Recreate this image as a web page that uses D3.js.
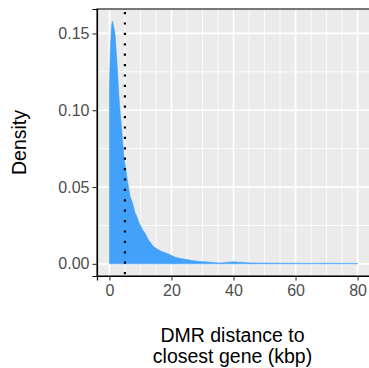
<!DOCTYPE html>
<html>
<head>
<meta charset="utf-8">
<script src="https://cdn.jsdelivr.net/npm/d3@7"></script>
<style>
  html, body { margin: 0; padding: 0; background: #fff; }
  svg { display: block; font-family: "Liberation Sans", Arial, sans-serif; }
</style>
</head>
<body>
<svg id="chart" width="369" height="368"></svg>
<script>
// distance to closest gene (kbp) and estimated density
const distance = [0, 0.3, 0.7, 1.0, 1.5, 1.84, 2.5, 3.1, 4.0, 4.7, 5.9, 6.7, 7.4, 8.3, 8.8, 9.5,
  10.75, 11.5, 12.6, 14.2, 15.5, 16.9, 19.0, 21.2, 23, 25.4, 27, 29.2, 31, 33.4, 35.6, 37,
  39.8, 42, 44, 46, 50, 55, 60, 65, 70, 75, 80];
const density = [0.115, 0.14, 0.155, 0.158, 0.153, 0.149, 0.129, 0.108, 0.086, 0.069, 0.053, 0.0437, 0.040, 0.033, 0.031, 0.027,
  0.022, 0.020, 0.0156, 0.0113, 0.0095, 0.008, 0.0065, 0.0043, 0.0035, 0.0026, 0.002, 0.0015, 0.0013, 0.0009, 0.0005, 0.0008,
  0.0013, 0.0011, 0.0008, 0.0006, 0.0005, 0.0004, 0.0004, 0.0003, 0.0004, 0.0003, 0.0003];
const medianLine = 5;

const xTicks = [0, 20, 40, 60, 80];
const xMinor = [5, 10, 15, 25, 30, 35, 45, 50, 55, 65, 70, 75];
const yTicks = [0, 0.05, 0.10, 0.15];
const yMinor = [0.025, 0.075, 0.125];

const xTitle = ["DMR distance to", "closest gene (kbp)"];
const yTitle = "Density";

const points = distance.map((d, i) => ({ x: d, y: density[i] }));

const panel = { left: 97, right: 370, top: 9, bottom: 276 };

// ggplot-style 5% expansion
const xMax = d3.max(distance), yMax = d3.max(density);
const x = d3.scaleLinear().domain([-xMax * 0.05, xMax * 1.05]).range([panel.left, panel.right]);
const y = d3.scaleLinear().domain([-yMax * 0.05, yMax * 1.05]).range([panel.bottom, panel.top]);

const svg = d3.select("#chart");

svg.append("rect")
  .attr("x", panel.left).attr("y", panel.top)
  .attr("width", panel.right - panel.left).attr("height", panel.bottom - panel.top)
  .attr("fill", "#EBEBEB");

const grid = svg.append("g").attr("stroke", "#fff");
grid.selectAll(".xminor").data(xMinor).join("line")
  .attr("x1", d => x(d)).attr("x2", d => x(d))
  .attr("y1", panel.top).attr("y2", panel.bottom)
  .attr("stroke-width", 0.8);
grid.selectAll(".yminor").data(yMinor).join("line")
  .attr("y1", d => y(d)).attr("y2", d => y(d))
  .attr("x1", panel.left).attr("x2", panel.right)
  .attr("stroke-width", 0.8);
grid.selectAll(".xmajor").data(xTicks).join("line")
  .attr("x1", d => x(d)).attr("x2", d => x(d))
  .attr("y1", panel.top).attr("y2", panel.bottom)
  .attr("stroke-width", 1.7);
grid.selectAll(".ymajor").data(yTicks).join("line")
  .attr("y1", d => y(d)).attr("y2", d => y(d))
  .attr("x1", panel.left).attr("x2", panel.right)
  .attr("stroke-width", 1.7);

const area = d3.area()
  .x(d => x(d.x))
  .y0(y(0))
  .y1(d => y(d.y));

svg.append("path")
  .datum(points)
  .attr("d", area)
  .attr("fill", "#43A1FA")
  .attr("stroke", "#43A1FA")
  .attr("stroke-width", 0.6);

svg.append("line")
  .attr("x1", x(medianLine)).attr("x2", x(medianLine))
  .attr("y1", panel.top + 3).attr("y2", panel.bottom)
  .attr("stroke", "#000")
  .attr("stroke-width", 2.2)
  .attr("stroke-dasharray", "2.2 8.2");

// panel border
svg.append("rect")
  .attr("x", panel.left).attr("y", panel.top)
  .attr("width", panel.right - panel.left).attr("height", panel.bottom - panel.top)
  .attr("fill", "none")
  .attr("stroke", "#333")
  .attr("stroke-width", 1.3);

const xAxis = svg.append("g")
  .attr("transform", `translate(0,${panel.bottom})`)
  .call(d3.axisBottom(x).tickValues(xTicks).tickSize(4.5).tickPadding(4).tickFormat(d3.format("d")));
const yAxis = svg.append("g")
  .attr("transform", `translate(${panel.left},0)`)
  .call(d3.axisLeft(y).tickValues(yTicks).tickSize(4.5).tickPadding(3).tickFormat(d3.format(".2f")));

[xAxis, yAxis].forEach(g => {
  g.select(".domain").attr("stroke", "#000").attr("stroke-width", 1.2);
  g.selectAll(".tick line").attr("stroke", "#333").attr("stroke-width", 1.1);
  g.selectAll(".tick text")
    .attr("fill", "#4D4D4D")
    .attr("font-size", 16)
    .attr("font-family", "Liberation Sans, Arial, sans-serif");
});

svg.append("text")
  .attr("transform", `translate(26,${(panel.top + panel.bottom) / 2}) rotate(-90)`)
  .attr("text-anchor", "middle")
  .attr("font-size", 19.5)
  .attr("fill", "#000")
  .text(yTitle);

svg.append("g")
  .selectAll("text")
  .data(xTitle)
  .join("text")
  .attr("x", (panel.left + panel.right) / 2 - 1)
  .attr("y", (d, i) => 342 + i * 21)
  .attr("text-anchor", "middle")
  .attr("font-size", 19.5)
  .attr("fill", "#000")
  .text(d => d);
</script>
</body>
</html>
